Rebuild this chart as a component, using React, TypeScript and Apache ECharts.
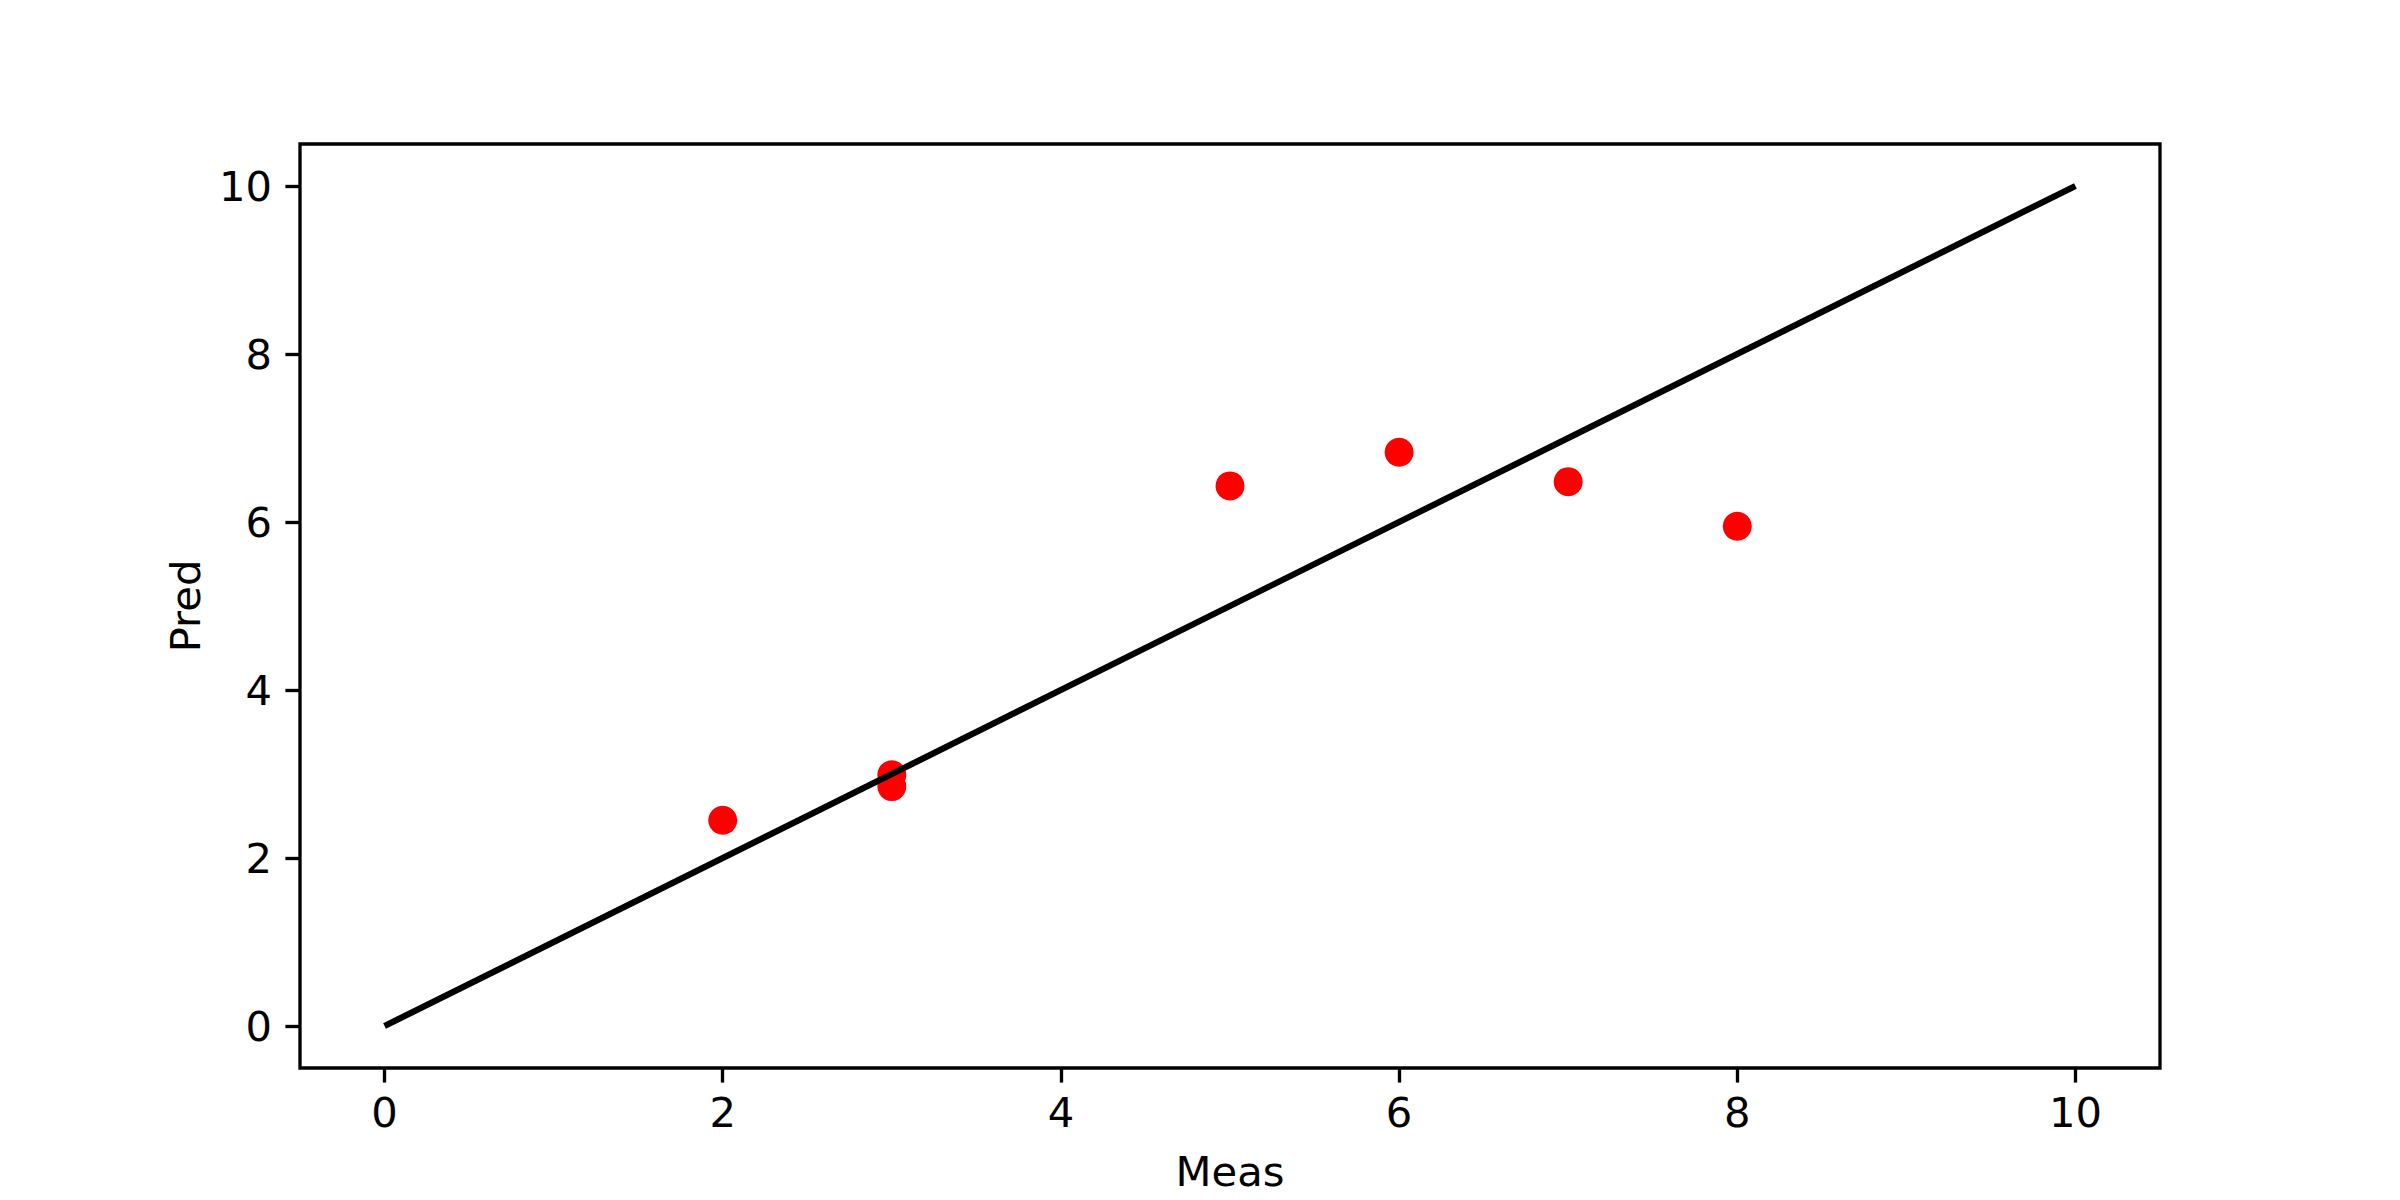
import React, { useEffect, useRef } from "react";
import * as echarts from "echarts";

const measValues = [2, 3, 3, 5, 6, 7, 8];
const predValues = [2.45, 2.99, 2.85, 6.43, 6.83, 6.48, 5.95];
const lineX = [0, 10];
const lineY = [0, 10];
const tickValues = [0, 2, 4, 6, 8, 10];
const axisMin = -0.5;
const axisMax = 10.5;

const FONT = "DejaVu Sans";
const PX = 300 / 72; // px per pt

export default function App() {
  const ref = useRef<HTMLDivElement>(null);
  useEffect(() => {
    if (!ref.current) return;
    const chart = echarts.init(ref.current, undefined, { renderer: "svg" });
    const scatterData = measValues.map((m, i) => [m, predValues[i]]);
    const lineData = lineX.map((x, i) => [x, lineY[i]]);
    const axisCommon = {
      type: "value" as const,
      min: axisMin,
      max: axisMax,
      splitLine: { show: false },
      axisLine: { show: false, onZero: false },
      axisTick: {
        show: true,
        inside: false,
        length: 3.5 * PX,
        lineStyle: { color: "#000", width: 0.8 * PX },
        customValues: tickValues,
      },
      axisLabel: {
        color: "#000",
        fontFamily: FONT,
        fontSize: 10 * PX,
        customValues: tickValues,
      },
      nameLocation: "middle" as const,
      nameTextStyle: { color: "#000", fontFamily: FONT, fontSize: 10 * PX },
    };
    chart.setOption({
      animation: false,
      backgroundColor: "#fff",
      grid: {
        left: 300,
        right: 240,
        top: 144,
        bottom: 132,
        show: true,
        borderColor: "#000",
        borderWidth: 0.8 * PX,
        backgroundColor: "transparent",
      },
      xAxis: {
        ...axisCommon,
        name: "Meas",
        nameGap: 82,
        axisLabel: { ...axisCommon.axisLabel, margin: 23 },
      },
      yAxis: {
        ...axisCommon,
        name: "Pred",
        nameGap: 94,
        nameRotate: 90,
        axisLabel: { ...axisCommon.axisLabel, margin: 28 },
      },
      series: [
        {
          type: "scatter",
          data: scatterData,
          symbol: "circle",
          symbolSize: 29,
          itemStyle: { color: "#ff0000", opacity: 1 },
          z: 2,
        },
        {
          type: "line",
          data: lineData,
          showSymbol: false,
          symbol: "none",
          lineStyle: { color: "#000", width: 1.5 * PX },
          z: 3,
        },
      ],
    });
    return () => chart.dispose();
  }, []);
  return (
    <div
      ref={ref}
      style={{ position: "fixed", left: 0, top: 0, width: 2400, height: 1200, background: "#fff" }}
    />
  );
}
